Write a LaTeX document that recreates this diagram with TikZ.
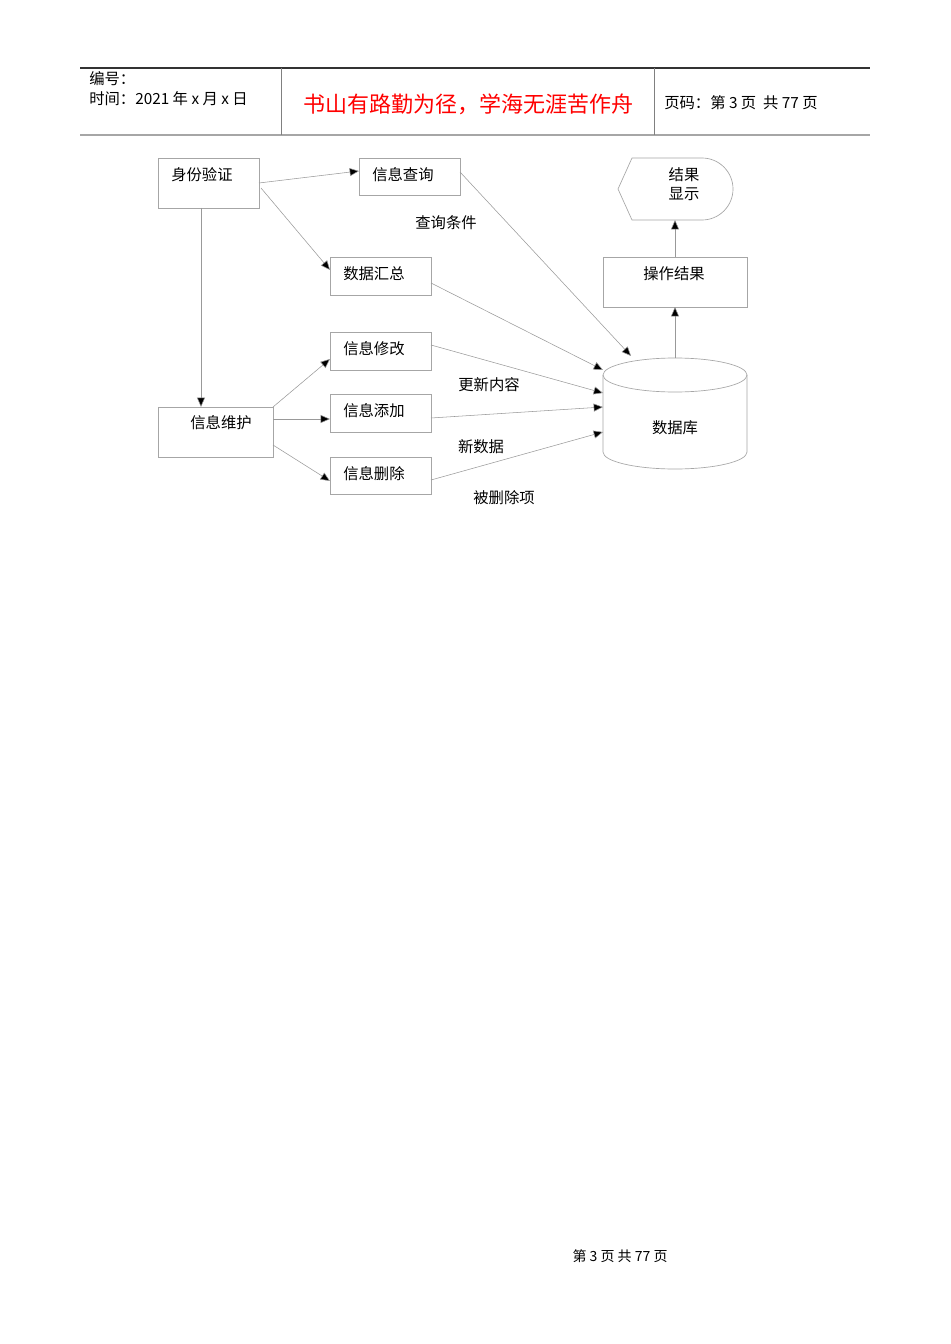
\documentclass[tikz,border=0pt]{standalone}
\usepackage{fontspec}
\setmainfont{Noto Sans CJK SC}
\usetikzlibrary{arrows.meta}
\begin{document}
\begin{tikzpicture}[x=0.75pt,y=-0.75pt,
  box/.style={draw=gray!70,line width=0.5pt},
  lbl/.style={font=\fontsize{11.5}{13}\selectfont,inner sep=0pt},
  conn/.style={draw=gray!80,line width=0.4pt,-{Triangle[length=7pt,width=6pt,fill=black]}}]
\path[fill=white] (0,0) rectangle (950,1344);
\useasboundingbox (0,0) rectangle (950,1344);
% header
\draw[line width=0.8pt,black!80] (80,68) -- (870,68);
\draw[line width=1.2pt,gray!70] (80,135) -- (870,135);
\draw[line width=0.6pt,gray] (281,68) -- (281,135) (654,68) -- (654,135);
\node[lbl,anchor=west] (h1) at (89,79) {编号：};
\node[lbl,anchor=west] (h2) at (89,99) {时间：2021 年 x 月 x 日};
\node[inner sep=0pt,text=red,font=\fontsize{16.5}{18}\selectfont] (h3) at (468,104) {书山有路勤为径，学海无涯苦作舟};
\node[lbl,anchor=west] (h4) at (664,103) {页码：第 3 页\ \ 共 77 页};
% boxes
\draw[box] (158,158) rectangle (259,208);
\node[lbl,anchor=west] (sf) at (171,175) {身份验证};
\draw[box] (359,158) rectangle (460,195);
\node[lbl,anchor=west] (cx) at (372,175) {信息查询};
\draw[box] (330,257) rectangle (431,295);
\node[lbl,anchor=west] (hz) at (343,274) {数据汇总};
\draw[box] (330,332) rectangle (431,370);
\node[lbl,anchor=west] (xg) at (343,349) {信息修改};
\draw[box] (330,394) rectangle (431,432);
\node[lbl,anchor=west] (tj) at (343,411) {信息添加};
\draw[box] (330,457) rectangle (431,494);
\node[lbl,anchor=west] (sc) at (343,474) {信息删除};
\draw[box] (158,407) rectangle (273,457);
\node[lbl] (wh) at (221,423) {信息维护};
\draw[box] (603,257) rectangle (747,307);
\node[lbl] (jg) at (674,274) {操作结果};
% display shape
\draw[box] (618,189) -- (632,158) -- (702,158) arc[start angle=-90,end angle=90,x radius=31,y radius=31] -- (632,220) -- cycle;
\node[lbl,align=center,font=\fontsize{11.5}{14}\selectfont] (xs) at (684,184) {结果\\显示};
% database
\draw[box] (603,375) -- (603,452) arc[start angle=180,end angle=0,x radius=72,y radius=17] -- (747,375);
\draw[box] (675,375) ellipse[x radius=72,y radius=17];
\node[lbl] (db) at (675,428) {数据库};
% labels
\node[lbl] (l1) at (446,223) {查询条件};
\node[lbl] (l2) at (489,385) {更新内容};
\node[lbl] (l3) at (481,447) {新数据};
\node[lbl] (l4) at (504,498) {被删除项};
% connectors
\coordinate (a1) at (259,183); \coordinate (a2) at (359,171);
\draw[conn] (a1) -- (a2);
\coordinate (b1) at (261,188); \coordinate (b2) at (330,270);
\draw[conn] (b1) -- (b2);
\coordinate (c1) at (201,208); \coordinate (c2) at (201,407);
\draw[conn] (c1) -- (c2);
\coordinate (d1) at (460,172); \coordinate (d2) at (631,356);
\draw[conn] (d1) -- (d2);
\coordinate (e1) at (431,283); \coordinate (e2) at (603,370);
\draw[conn] (e1) -- (e2);
\coordinate (f1) at (431,345); \coordinate (f2) at (603,393);
\draw[conn] (f1) -- (f2);
\coordinate (g1) at (431,418); \coordinate (g2) at (603,407);
\draw[conn] (g1) -- (g2);
\coordinate (i1) at (431,480); \coordinate (i2) at (603,432);
\draw[conn] (i1) -- (i2);
\coordinate (j1) at (273,407); \coordinate (j2) at (330,359);
\draw[conn] (j1) -- (j2);
\coordinate (k1) at (273,419); \coordinate (k2) at (330,419);
\draw[conn] (k1) -- (k2);
\coordinate (m1) at (273,445); \coordinate (m2) at (330,481);
\draw[conn] (m1) -- (m2);
\coordinate (n1) at (675,358); \coordinate (n2) at (675,307);
\draw[conn] (n1) -- (n2);
\coordinate (o1) at (675,257); \coordinate (o2) at (675,220);
\draw[conn] (o1) -- (o2);
% footer
\node[lbl,font=\fontsize{10.5}{12}\selectfont] (ft) at (620,1256) {第\ 3\ 页\ 共\ 77\ 页};
\end{tikzpicture}
\end{document}
